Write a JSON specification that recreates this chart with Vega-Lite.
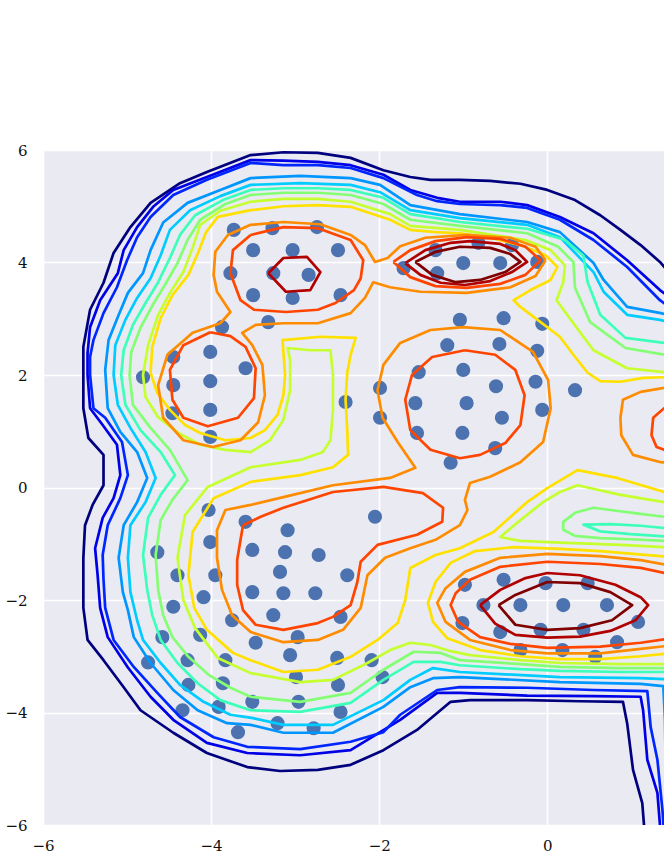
{
"$schema":"https://vega.github.io/schema/vega-lite/v6.json",
"autosize":{"type":"none"},
"padding":{"left":43,"top":150,"right":0,"bottom":35},
"width":621,"height":675,
"background":"white",
"config":{"view":{"stroke":null,"fill":"#EAEAF2"},
"axis":{"domain":false,"ticks":false,"grid":true,"gridColor":"white","gridWidth":1.6,"labelFont":"DejaVu Serif","labelFontSize":15,"labelColor":"#111","labelFlush":false,"title":null}},
"datasets":{
"c":[
{"l":1,"s":"1","x":1.58,"y":3.6},{"l":1,"s":"1","x":1.34,"y":4.01},{"l":1,"s":"1","x":1.11,"y":4.31},{"l":1,"s":"1","x":0.87,"y":4.58},{"l":1,"s":"1","x":0.63,"y":4.84},{"l":1,"s":"1","x":0.33,"y":5.11},{"l":1,"s":"1","x":0,"y":5.29},{"l":1,"s":"1","x":-0.32,"y":5.4},{"l":1,"s":"1","x":-0.68,"y":5.45},{"l":1,"s":"1","x":-1.04,"y":5.47},{"l":1,"s":"1","x":-1.39,"y":5.47},{"l":1,"s":"1","x":-1.63,"y":5.52},{"l":1,"s":"1","x":-1.95,"y":5.64},{"l":1,"s":"1","x":-2.34,"y":5.86},{"l":1,"s":"1","x":-2.73,"y":5.95},{"l":1,"s":"1","x":-3.14,"y":5.96},{"l":1,"s":"1","x":-3.53,"y":5.91},{"l":1,"s":"1","x":-4.05,"y":5.61},{"l":1,"s":"1","x":-4.37,"y":5.41},{"l":1,"s":"1","x":-4.72,"y":5.06},{"l":1,"s":"1","x":-4.96,"y":4.63},{"l":1,"s":"1","x":-5.16,"y":4.17},{"l":1,"s":"1","x":-5.28,"y":3.64},{"l":1,"s":"1","x":-5.44,"y":3.16},{"l":1,"s":"1","x":-5.52,"y":2.5},{"l":1,"s":"1","x":-5.52,"y":2.0},{"l":1,"s":"1","x":-5.52,"y":1.41},{"l":1,"s":"1","x":-5.46,"y":0.88},{"l":1,"s":"1","x":-5.28,"y":0.58},{"l":1,"s":"1","x":-5.28,"y":0.04},{"l":1,"s":"1","x":-5.41,"y":-0.31},{"l":1,"s":"1","x":-5.5,"y":-0.67},{"l":1,"s":"1","x":-5.52,"y":-1.25},{"l":1,"s":"1","x":-5.52,"y":-2.14},{"l":1,"s":"1","x":-5.47,"y":-2.71},{"l":1,"s":"1","x":-5.28,"y":-3.07},{"l":1,"s":"1","x":-5.04,"y":-3.55},{"l":1,"s":"1","x":-4.84,"y":-3.96},{"l":1,"s":"1","x":-4.45,"y":-4.36},{"l":1,"s":"1","x":-4.05,"y":-4.72},{"l":1,"s":"1","x":-3.57,"y":-4.97},{"l":1,"s":"1","x":-3.18,"y":-5.04},{"l":1,"s":"1","x":-2.73,"y":-5.02},{"l":1,"s":"1","x":-2.34,"y":-4.93},{"l":1,"s":"1","x":-1.95,"y":-4.67},{"l":1,"s":"1","x":-1.55,"y":-4.31},{"l":1,"s":"1","x":-1.31,"y":-4.01},{"l":1,"s":"1","x":-1.15,"y":-3.81},{"l":1,"s":"1","x":-0.92,"y":-3.78},{"l":1,"s":"1","x":-0.24,"y":-3.78},{"l":1,"s":"1","x":0.39,"y":-3.8},{"l":1,"s":"1","x":0.9,"y":-3.81},{"l":1,"s":"1","x":0.95,"y":-4.19},{"l":1,"s":"1","x":1.02,"y":-5.02},{"l":1,"s":"1","x":1.13,"y":-5.61},{"l":1,"s":"1","x":1.16,"y":-6.18},

{"l":2,"s":"2","x":1.58,"y":3.24},{"l":2,"s":"2","x":1.34,"y":3.51},{"l":2,"s":"2","x":0.95,"y":4.04},{"l":2,"s":"2","x":0.55,"y":4.52},{"l":2,"s":"2","x":0.15,"y":4.81},{"l":2,"s":"2","x":-0.24,"y":5.02},{"l":2,"s":"2","x":-0.56,"y":5.08},{"l":2,"s":"2","x":-1.04,"y":5.08},{"l":2,"s":"2","x":-1.31,"y":5.15},{"l":2,"s":"2","x":-1.63,"y":5.29},{"l":2,"s":"2","x":-1.95,"y":5.56},{"l":2,"s":"2","x":-2.34,"y":5.73},{"l":2,"s":"2","x":-2.73,"y":5.79},{"l":2,"s":"2","x":-3.14,"y":5.81},{"l":2,"s":"2","x":-3.53,"y":5.82},{"l":2,"s":"2","x":-4.05,"y":5.52},{"l":2,"s":"2","x":-4.45,"y":5.29},{"l":2,"s":"2","x":-4.69,"y":4.99},{"l":2,"s":"2","x":-4.88,"y":4.63},{"l":2,"s":"2","x":-5.04,"y":4.22},{"l":2,"s":"2","x":-5.11,"y":3.81},{"l":2,"s":"2","x":-5.32,"y":3.33},{"l":2,"s":"2","x":-5.44,"y":2.85},{"l":2,"s":"2","x":-5.47,"y":2.39},{"l":2,"s":"2","x":-5.47,"y":2.0},{"l":2,"s":"2","x":-5.44,"y":1.41},{"l":2,"s":"2","x":-5.29,"y":1.11},{"l":2,"s":"2","x":-5.12,"y":0.76},{"l":2,"s":"2","x":-5.08,"y":0.22},{"l":2,"s":"2","x":-5.16,"y":-0.19},{"l":2,"s":"2","x":-5.29,"y":-0.54},{"l":2,"s":"2","x":-5.38,"y":-1.08},{"l":2,"s":"2","x":-5.35,"y":-1.56},{"l":2,"s":"2","x":-5.32,"y":-2.14},{"l":2,"s":"2","x":-5.23,"y":-2.66},{"l":2,"s":"2","x":-4.99,"y":-3.2},{"l":2,"s":"2","x":-4.72,"y":-3.72},{"l":2,"s":"2","x":-4.45,"y":-4.13},{"l":2,"s":"2","x":-4.05,"y":-4.54},{"l":2,"s":"2","x":-3.57,"y":-4.72},{"l":2,"s":"2","x":-2.94,"y":-4.76},{"l":2,"s":"2","x":-2.34,"y":-4.67},{"l":2,"s":"2","x":-1.75,"y":-4.13},{"l":2,"s":"2","x":-1.31,"y":-3.65},{"l":2,"s":"2","x":-1.04,"y":-3.65},{"l":2,"s":"2","x":-0.24,"y":-3.7},{"l":2,"s":"2","x":0.55,"y":-3.71},{"l":2,"s":"2","x":1.11,"y":-3.72},{"l":2,"s":"2","x":1.14,"y":-3.96},{"l":2,"s":"2","x":1.19,"y":-4.84},{"l":2,"s":"2","x":1.31,"y":-5.43},{"l":2,"s":"2","x":1.35,"y":-6.18},

{"l":3,"s":"3","x":1.58,"y":3.07},{"l":3,"s":"3","x":1.34,"y":3.33},{"l":3,"s":"3","x":0.95,"y":3.92},{"l":3,"s":"3","x":0.55,"y":4.4},{"l":3,"s":"3","x":0.15,"y":4.76},{"l":3,"s":"3","x":-0.24,"y":4.97},{"l":3,"s":"3","x":-0.56,"y":5.02},{"l":3,"s":"3","x":-1.04,"y":5.04},{"l":3,"s":"3","x":-1.31,"y":5.09},{"l":3,"s":"3","x":-1.55,"y":5.2},{"l":3,"s":"3","x":-1.95,"y":5.5},{"l":3,"s":"3","x":-2.34,"y":5.68},{"l":3,"s":"3","x":-2.73,"y":5.73},{"l":3,"s":"3","x":-3.14,"y":5.73},{"l":3,"s":"3","x":-3.53,"y":5.77},{"l":3,"s":"3","x":-4.05,"y":5.47},{"l":3,"s":"3","x":-4.45,"y":5.2},{"l":3,"s":"3","x":-4.72,"y":4.81},{"l":3,"s":"3","x":-4.88,"y":4.45},{"l":3,"s":"3","x":-5.0,"y":4.04},{"l":3,"s":"3","x":-5.12,"y":3.56},{"l":3,"s":"3","x":-5.28,"y":3.1},{"l":3,"s":"3","x":-5.4,"y":2.62},{"l":3,"s":"3","x":-5.44,"y":2.32},{"l":3,"s":"3","x":-5.44,"y":2.0},{"l":3,"s":"3","x":-5.4,"y":1.41},{"l":3,"s":"3","x":-5.26,"y":1.24},{"l":3,"s":"3","x":-5.06,"y":0.81},{"l":3,"s":"3","x":-4.99,"y":0.22},{"l":3,"s":"3","x":-5.08,"y":-0.19},{"l":3,"s":"3","x":-5.23,"y":-0.67},{"l":3,"s":"3","x":-5.29,"y":-1.2},{"l":3,"s":"3","x":-5.28,"y":-1.64},{"l":3,"s":"3","x":-5.26,"y":-2.14},{"l":3,"s":"3","x":-5.16,"y":-2.71},{"l":3,"s":"3","x":-4.92,"y":-3.19},{"l":3,"s":"3","x":-4.64,"y":-3.65},{"l":3,"s":"3","x":-4.37,"y":-4.08},{"l":3,"s":"3","x":-3.97,"y":-4.44},{"l":3,"s":"3","x":-3.57,"y":-4.61},{"l":3,"s":"3","x":-2.94,"y":-4.65},{"l":3,"s":"3","x":-2.34,"y":-4.52},{"l":3,"s":"3","x":-1.95,"y":-4.35},{"l":3,"s":"3","x":-1.75,"y":-4.04},{"l":3,"s":"3","x":-1.31,"y":-3.6},{"l":3,"s":"3","x":-1.04,"y":-3.55},{"l":3,"s":"3","x":-0.24,"y":-3.56},{"l":3,"s":"3","x":0.55,"y":-3.6},{"l":3,"s":"3","x":1.19,"y":-3.62},{"l":3,"s":"3","x":1.23,"y":-4.26},{"l":3,"s":"3","x":1.31,"y":-4.84},{"l":3,"s":"3","x":1.37,"y":-5.73},{"l":3,"s":"3","x":1.39,"y":-6.18},

{"l":4,"s":"4","x":1.58,"y":3.01},{"l":4,"s":"4","x":1.35,"y":3.1},{"l":4,"s":"4","x":0.95,"y":3.21},{"l":4,"s":"4","x":0.67,"y":3.69},{"l":4,"s":"4","x":0.55,"y":3.99},{"l":4,"s":"4","x":0.15,"y":4.54},{"l":4,"s":"4","x":-0.24,"y":4.72},{"l":4,"s":"4","x":-1.04,"y":4.86},{"l":4,"s":"4","x":-1.63,"y":5.02},{"l":4,"s":"4","x":-1.99,"y":5.38},{"l":4,"s":"4","x":-2.34,"y":5.5},{"l":4,"s":"4","x":-2.94,"y":5.54},{"l":4,"s":"4","x":-3.53,"y":5.5},{"l":4,"s":"4","x":-3.89,"y":5.29},{"l":4,"s":"4","x":-4.28,"y":5.06},{"l":4,"s":"4","x":-4.57,"y":4.71},{"l":4,"s":"4","x":-4.72,"y":4.22},{"l":4,"s":"4","x":-4.81,"y":3.81},{"l":4,"s":"4","x":-4.99,"y":3.46},{"l":4,"s":"4","x":-5.11,"y":3.03},{"l":4,"s":"4","x":-5.22,"y":2.62},{"l":4,"s":"4","x":-5.26,"y":2.09},{"l":4,"s":"4","x":-5.23,"y":1.41},{"l":4,"s":"4","x":-5.08,"y":0.99},{"l":4,"s":"4","x":-4.88,"y":0.63},{"l":4,"s":"4","x":-4.76,"y":0.17},{"l":4,"s":"4","x":-4.88,"y":-0.26},{"l":4,"s":"4","x":-5.04,"y":-0.67},{"l":4,"s":"4","x":-5.1,"y":-1.25},{"l":4,"s":"4","x":-5.05,"y":-1.86},{"l":4,"s":"4","x":-4.99,"y":-2.18},{"l":4,"s":"4","x":-4.92,"y":-2.66},{"l":4,"s":"4","x":-4.72,"y":-3.12},{"l":4,"s":"4","x":-4.45,"y":-3.6},{"l":4,"s":"4","x":-4.16,"y":-3.96},{"l":4,"s":"4","x":-3.81,"y":-4.19},{"l":4,"s":"4","x":-3.53,"y":-4.22},{"l":4,"s":"4","x":-3.14,"y":-4.36},{"l":4,"s":"4","x":-2.55,"y":-4.36},{"l":4,"s":"4","x":-1.95,"y":-3.9},{"l":4,"s":"4","x":-1.63,"y":-3.55},{"l":4,"s":"4","x":-1.36,"y":-3.39},{"l":4,"s":"4","x":-1.04,"y":-3.37},{"l":4,"s":"4","x":0.15,"y":-3.46},{"l":4,"s":"4","x":1.11,"y":-3.49},{"l":4,"s":"4","x":1.38,"y":-3.53},{"l":4,"s":"4","x":1.4,"y":-4.13},{"l":4,"s":"4","x":1.42,"y":-6.18},

{"l":5,"s":"5","x":1.58,"y":2.89},{"l":5,"s":"5","x":1.34,"y":2.98},{"l":5,"s":"5","x":0.95,"y":3.07},{"l":5,"s":"5","x":0.67,"y":3.48},{"l":5,"s":"5","x":0.55,"y":3.83},{"l":5,"s":"5","x":0.15,"y":4.45},{"l":5,"s":"5","x":-0.24,"y":4.67},{"l":5,"s":"5","x":-1.04,"y":4.79},{"l":5,"s":"5","x":-1.63,"y":4.93},{"l":5,"s":"5","x":-1.99,"y":5.25},{"l":5,"s":"5","x":-2.34,"y":5.38},{"l":5,"s":"5","x":-2.94,"y":5.41},{"l":5,"s":"5","x":-3.53,"y":5.38},{"l":5,"s":"5","x":-3.89,"y":5.18},{"l":5,"s":"5","x":-4.25,"y":4.93},{"l":5,"s":"5","x":-4.49,"y":4.58},{"l":5,"s":"5","x":-4.6,"y":4.13},{"l":5,"s":"5","x":-4.72,"y":3.72},{"l":5,"s":"5","x":-4.88,"y":3.37},{"l":5,"s":"5","x":-5.02,"y":2.98},{"l":5,"s":"5","x":-5.14,"y":2.53},{"l":5,"s":"5","x":-5.16,"y":2.0},{"l":5,"s":"5","x":-5.11,"y":1.47},{"l":5,"s":"5","x":-4.96,"y":1.06},{"l":5,"s":"5","x":-4.78,"y":0.63},{"l":5,"s":"5","x":-4.66,"y":0.17},{"l":5,"s":"5","x":-4.78,"y":-0.26},{"l":5,"s":"5","x":-4.96,"y":-0.67},{"l":5,"s":"5","x":-4.99,"y":-1.25},{"l":5,"s":"5","x":-4.96,"y":-1.86},{"l":5,"s":"5","x":-4.88,"y":-2.36},{"l":5,"s":"5","x":-4.81,"y":-2.71},{"l":5,"s":"5","x":-4.6,"y":-3.12},{"l":5,"s":"5","x":-4.37,"y":-3.51},{"l":5,"s":"5","x":-4.09,"y":-3.81},{"l":5,"s":"5","x":-3.77,"y":-4.04},{"l":5,"s":"5","x":-3.5,"y":-4.1},{"l":5,"s":"5","x":-3.14,"y":-4.22},{"l":5,"s":"5","x":-2.55,"y":-4.22},{"l":5,"s":"5","x":-1.95,"y":-3.78},{"l":5,"s":"5","x":-1.63,"y":-3.42},{"l":5,"s":"5","x":-1.36,"y":-3.21},{"l":5,"s":"5","x":-1.04,"y":-3.28},{"l":5,"s":"5","x":0.15,"y":-3.37},{"l":5,"s":"5","x":1.11,"y":-3.39},{"l":5,"s":"5","x":1.58,"y":-3.42},

{"l":6,"s":"6a","x":1.52,"y":2.55},{"l":6,"s":"6a","x":1.39,"y":2.57},{"l":6,"s":"6a","x":0.93,"y":2.66},{"l":6,"s":"6a","x":0.63,"y":3.07},{"l":6,"s":"6a","x":0.48,"y":3.65},{"l":6,"s":"6a","x":0.43,"y":4.12},{"l":6,"s":"6a","x":0.21,"y":4.4},{"l":6,"s":"6a","x":-0.24,"y":4.6},{"l":6,"s":"6a","x":-1.04,"y":4.72},{"l":6,"s":"6a","x":-1.63,"y":4.86},{"l":6,"s":"6a","x":-1.95,"y":5.15},{"l":6,"s":"6a","x":-2.34,"y":5.29},{"l":6,"s":"6a","x":-2.73,"y":5.32},{"l":6,"s":"6a","x":-3.14,"y":5.32},{"l":6,"s":"6a","x":-3.53,"y":5.29},{"l":6,"s":"6a","x":-3.86,"y":5.11},{"l":6,"s":"6a","x":-4.19,"y":4.84},{"l":6,"s":"6a","x":-4.37,"y":4.49},{"l":6,"s":"6a","x":-4.49,"y":4.08},{"l":6,"s":"6a","x":-4.63,"y":3.65},{"l":6,"s":"6a","x":-4.78,"y":3.28},{"l":6,"s":"6a","x":-4.93,"y":2.89},{"l":6,"s":"6a","x":-5.04,"y":2.44},{"l":6,"s":"6a","x":-5.07,"y":2.0},{"l":6,"s":"6a","x":-5.02,"y":1.47},{"l":6,"s":"6a","x":-4.84,"y":1.02},{"l":6,"s":"6a","x":-4.6,"y":0.63},{"l":6,"s":"6a","x":-4.43,"y":0.22},{"l":6,"s":"6a","x":-4.6,"y":-0.13},{"l":6,"s":"6a","x":-4.75,"y":-0.54},{"l":6,"s":"6a","x":-4.81,"y":-1.2},{"l":6,"s":"6a","x":-4.76,"y":-1.82},{"l":6,"s":"6a","x":-4.7,"y":-2.27},{"l":6,"s":"6a","x":-4.6,"y":-2.71},{"l":6,"s":"6a","x":-4.4,"y":-3.12},{"l":6,"s":"6a","x":-4.16,"y":-3.48},{"l":6,"s":"6a","x":-3.89,"y":-3.78},{"l":6,"s":"6a","x":-3.53,"y":-3.96},{"l":6,"s":"6a","x":-2.94,"y":-3.99},{"l":6,"s":"6a","x":-2.34,"y":-3.83},{"l":6,"s":"6a","x":-1.95,"y":-3.42},{"l":6,"s":"6a","x":-1.59,"y":-3.1},{"l":6,"s":"6a","x":-1.27,"y":-3.1},{"l":6,"s":"6a","x":-1.04,"y":-3.16},{"l":6,"s":"6a","x":-0.32,"y":-3.23},{"l":6,"s":"6a","x":0.15,"y":-3.26},{"l":6,"s":"6a","x":0.87,"y":-3.28},{"l":6,"s":"6a","x":1.52,"y":-3.28},
{"l":6,"s":"6b","x":1.52,"y":-0.72},{"l":6,"s":"6b","x":1.39,"y":-0.72},{"l":6,"s":"6b","x":1.11,"y":-0.68},{"l":6,"s":"6b","x":0.75,"y":-0.65},{"l":6,"s":"6b","x":0.43,"y":-0.66},{"l":6,"s":"6b","x":0.63,"y":-0.78},{"l":6,"s":"6b","x":0.99,"y":-0.83},{"l":6,"s":"6b","x":1.39,"y":-0.87},{"l":6,"s":"6b","x":1.52,"y":-0.87},

{"l":7,"s":"7a","x":1.52,"y":2.34},{"l":7,"s":"7a","x":1.39,"y":2.36},{"l":7,"s":"7a","x":0.93,"y":2.48},{"l":7,"s":"7a","x":0.51,"y":2.94},{"l":7,"s":"7a","x":0.33,"y":3.55},{"l":7,"s":"7a","x":0.31,"y":4.01},{"l":7,"s":"7a","x":0.13,"y":4.28},{"l":7,"s":"7a","x":-0.24,"y":4.52},{"l":7,"s":"7a","x":-1.04,"y":4.65},{"l":7,"s":"7a","x":-1.63,"y":4.76},{"l":7,"s":"7a","x":-1.95,"y":5.04},{"l":7,"s":"7a","x":-2.34,"y":5.2},{"l":7,"s":"7a","x":-2.73,"y":5.24},{"l":7,"s":"7a","x":-3.14,"y":5.24},{"l":7,"s":"7a","x":-3.53,"y":5.2},{"l":7,"s":"7a","x":-3.83,"y":5.04},{"l":7,"s":"7a","x":-4.13,"y":4.76},{"l":7,"s":"7a","x":-4.28,"y":4.4},{"l":7,"s":"7a","x":-4.4,"y":3.99},{"l":7,"s":"7a","x":-4.55,"y":3.6},{"l":7,"s":"7a","x":-4.7,"y":3.23},{"l":7,"s":"7a","x":-4.84,"y":2.84},{"l":7,"s":"7a","x":-4.95,"y":2.41},{"l":7,"s":"7a","x":-4.97,"y":2.0},{"l":7,"s":"7a","x":-4.93,"y":1.47},{"l":7,"s":"7a","x":-4.72,"y":1.06},{"l":7,"s":"7a","x":-4.49,"y":0.67},{"l":7,"s":"7a","x":-4.28,"y":0.13},{"l":7,"s":"7a","x":-4.46,"y":-0.22},{"l":7,"s":"7a","x":-4.6,"y":-0.58},{"l":7,"s":"7a","x":-4.66,"y":-1.2},{"l":7,"s":"7a","x":-4.63,"y":-1.82},{"l":7,"s":"7a","x":-4.57,"y":-2.27},{"l":7,"s":"7a","x":-4.46,"y":-2.66},{"l":7,"s":"7a","x":-4.27,"y":-3.01},{"l":7,"s":"7a","x":-4.03,"y":-3.33},{"l":7,"s":"7a","x":-3.77,"y":-3.56},{"l":7,"s":"7a","x":-3.53,"y":-3.72},{"l":7,"s":"7a","x":-2.94,"y":-3.81},{"l":7,"s":"7a","x":-2.34,"y":-3.65},{"l":7,"s":"7a","x":-1.95,"y":-3.24},{"l":7,"s":"7a","x":-1.59,"y":-2.92},{"l":7,"s":"7a","x":-1.27,"y":-2.94},{"l":7,"s":"7a","x":-1.04,"y":-3.07},{"l":7,"s":"7a","x":-0.32,"y":-3.14},{"l":7,"s":"7a","x":0.15,"y":-3.19},{"l":7,"s":"7a","x":0.87,"y":-3.21},{"l":7,"s":"7a","x":1.52,"y":-3.21},
{"l":7,"s":"7b","x":1.52,"y":-0.52},{"l":7,"s":"7b","x":1.39,"y":-0.52},{"l":7,"s":"7b","x":1.11,"y":-0.47},{"l":7,"s":"7b","x":0.75,"y":-0.4},{"l":7,"s":"7b","x":0.55,"y":-0.36},{"l":7,"s":"7b","x":0.33,"y":-0.45},{"l":7,"s":"7b","x":0.19,"y":-0.61},{"l":7,"s":"7b","x":0.19,"y":-0.75},{"l":7,"s":"7b","x":0.33,"y":-0.86},{"l":7,"s":"7b","x":0.63,"y":-0.9},{"l":7,"s":"7b","x":0.99,"y":-0.92},{"l":7,"s":"7b","x":1.39,"y":-0.95},{"l":7,"s":"7b","x":1.52,"y":-0.95},

{"l":8,"s":"8a","x":1.52,"y":2.05},{"l":8,"s":"8a","x":1.39,"y":2.05},{"l":8,"s":"8a","x":0.95,"y":2.12},{"l":8,"s":"8a","x":0.55,"y":2.44},{"l":8,"s":"8a","x":0.3,"y":2.94},{"l":8,"s":"8a","x":0.11,"y":3.33},{"l":8,"s":"8a","x":0.19,"y":3.65},{"l":8,"s":"8a","x":0.21,"y":3.95},{"l":8,"s":"8a","x":0.04,"y":4.22},{"l":8,"s":"8a","x":-0.26,"y":4.4},{"l":8,"s":"8a","x":-0.56,"y":4.47},{"l":8,"s":"8a","x":-1.04,"y":4.58},{"l":8,"s":"8a","x":-1.63,"y":4.65},{"l":8,"s":"8a","x":-1.87,"y":4.86},{"l":8,"s":"8a","x":-2.34,"y":5.08},{"l":8,"s":"8a","x":-2.73,"y":5.13},{"l":8,"s":"8a","x":-3.14,"y":5.13},{"l":8,"s":"8a","x":-3.53,"y":5.08},{"l":8,"s":"8a","x":-3.89,"y":4.92},{"l":8,"s":"8a","x":-4.13,"y":4.67},{"l":8,"s":"8a","x":-4.22,"y":4.26},{"l":8,"s":"8a","x":-4.33,"y":3.83},{"l":8,"s":"8a","x":-4.49,"y":3.46},{"l":8,"s":"8a","x":-4.63,"y":3.07},{"l":8,"s":"8a","x":-4.75,"y":2.53},{"l":8,"s":"8a","x":-4.81,"y":2.0},{"l":8,"s":"8a","x":-4.78,"y":1.61},{"l":8,"s":"8a","x":-4.63,"y":1.25},{"l":8,"s":"8a","x":-4.39,"y":0.97},{"l":8,"s":"8a","x":-4.13,"y":0.76},{"l":8,"s":"8a","x":-3.83,"y":0.67},{"l":8,"s":"8a","x":-3.53,"y":0.63},{"l":8,"s":"8a","x":-3.3,"y":0.84},{"l":8,"s":"8a","x":-3.14,"y":1.2},{"l":8,"s":"8a","x":-3.06,"y":1.73},{"l":8,"s":"8a","x":-3.06,"y":2.27},{"l":8,"s":"8a","x":-3.09,"y":2.48},{"l":8,"s":"8a","x":-2.82,"y":2.44},{"l":8,"s":"8a","x":-2.58,"y":2.44},{"l":8,"s":"8a","x":-2.55,"y":2.0},{"l":8,"s":"8a","x":-2.55,"y":1.38},{"l":8,"s":"8a","x":-2.58,"y":0.84},{"l":8,"s":"8a","x":-2.67,"y":0.63},{"l":8,"s":"8a","x":-2.94,"y":0.49},{"l":8,"s":"8a","x":-3.53,"y":0.36},{"l":8,"s":"8a","x":-4.04,"y":0.01},{"l":8,"s":"8a","x":-4.31,"y":-0.49},{"l":8,"s":"8a","x":-4.4,"y":-1.25},{"l":8,"s":"8a","x":-4.33,"y":-2.0},{"l":8,"s":"8a","x":-4.19,"y":-2.5},{"l":8,"s":"8a","x":-3.92,"y":-3.03},{"l":8,"s":"8a","x":-3.53,"y":-3.3},{"l":8,"s":"8a","x":-2.94,"y":-3.46},{"l":8,"s":"8a","x":-2.55,"y":-3.42},{"l":8,"s":"8a","x":-2.14,"y":-3.12},{"l":8,"s":"8a","x":-1.87,"y":-2.89},{"l":8,"s":"8a","x":-1.63,"y":-2.76},{"l":8,"s":"8a","x":-1.39,"y":-2.8},{"l":8,"s":"8a","x":-1.15,"y":-2.91},{"l":8,"s":"8a","x":-0.92,"y":-2.98},{"l":8,"s":"8a","x":-0.32,"y":-3.07},{"l":8,"s":"8a","x":0.15,"y":-3.12},{"l":8,"s":"8a","x":0.87,"y":-3.14},{"l":8,"s":"8a","x":1.52,"y":-3.14},
{"l":8,"s":"8b","x":1.52,"y":-0.26},{"l":8,"s":"8b","x":1.39,"y":-0.26},{"l":8,"s":"8b","x":0.87,"y":-0.13},{"l":8,"s":"8b","x":0.36,"y":0.04},{"l":8,"s":"8b","x":0.15,"y":-0.08},{"l":8,"s":"8b","x":-0.05,"y":-0.26},{"l":8,"s":"8b","x":-0.32,"y":-0.58},{"l":8,"s":"8b","x":-0.56,"y":-0.88},{"l":8,"s":"8b","x":-0.32,"y":-0.95},{"l":8,"s":"8b","x":0.15,"y":-0.98},{"l":8,"s":"8b","x":0.87,"y":-1.02},{"l":8,"s":"8b","x":1.39,"y":-1.06},{"l":8,"s":"8b","x":1.52,"y":-1.07},

{"l":9,"s":"9a","x":1.52,"y":1.96},{"l":9,"s":"9a","x":1.39,"y":1.96},{"l":9,"s":"9a","x":1.14,"y":1.95},{"l":9,"s":"9a","x":0.87,"y":1.88},{"l":9,"s":"9a","x":0.63,"y":1.89},{"l":9,"s":"9a","x":0.48,"y":2.04},{"l":9,"s":"9a","x":0.31,"y":2.36},{"l":9,"s":"9a","x":0.15,"y":2.68},{"l":9,"s":"9a","x":-0.08,"y":2.94},{"l":9,"s":"9a","x":-0.32,"y":3.21},{"l":9,"s":"9a","x":-0.4,"y":3.33},{"l":9,"s":"9a","x":-0.2,"y":3.51},{"l":9,"s":"9a","x":0.04,"y":3.69},{"l":9,"s":"9a","x":0.12,"y":3.92},{"l":9,"s":"9a","x":-0.02,"y":4.13},{"l":9,"s":"9a","x":-0.32,"y":4.31},{"l":9,"s":"9a","x":-0.68,"y":4.44},{"l":9,"s":"9a","x":-1.04,"y":4.52},{"l":9,"s":"9a","x":-1.33,"y":4.54},{"l":9,"s":"9a","x":-1.63,"y":4.58},{"l":9,"s":"9a","x":-1.87,"y":4.76},{"l":9,"s":"9a","x":-2.34,"y":4.99},{"l":9,"s":"9a","x":-2.73,"y":5.02},{"l":9,"s":"9a","x":-3.14,"y":5.0},{"l":9,"s":"9a","x":-3.53,"y":4.93},{"l":9,"s":"9a","x":-3.92,"y":4.81},{"l":9,"s":"9a","x":-4.06,"y":4.54},{"l":9,"s":"9a","x":-4.15,"y":4.19},{"l":9,"s":"9a","x":-4.27,"y":3.78},{"l":9,"s":"9a","x":-4.46,"y":3.42},{"l":9,"s":"9a","x":-4.6,"y":3.01},{"l":9,"s":"9a","x":-4.7,"y":2.5},{"l":9,"s":"9a","x":-4.72,"y":2.04},{"l":9,"s":"9a","x":-4.64,"y":1.68},{"l":9,"s":"9a","x":-4.49,"y":1.38},{"l":9,"s":"9a","x":-4.31,"y":1.11},{"l":9,"s":"9a","x":-4.13,"y":0.97},{"l":9,"s":"9a","x":-3.83,"y":0.84},{"l":9,"s":"9a","x":-3.53,"y":0.88},{"l":9,"s":"9a","x":-3.36,"y":1.02},{"l":9,"s":"9a","x":-3.21,"y":1.29},{"l":9,"s":"9a","x":-3.14,"y":1.64},{"l":9,"s":"9a","x":-3.12,"y":2.0},{"l":9,"s":"9a","x":-3.15,"y":2.62},{"l":9,"s":"9a","x":-2.7,"y":2.68},{"l":9,"s":"9a","x":-2.28,"y":2.66},{"l":9,"s":"9a","x":-2.34,"y":2.36},{"l":9,"s":"9a","x":-2.38,"y":2.04},{"l":9,"s":"9a","x":-2.4,"y":1.56},{"l":9,"s":"9a","x":-2.38,"y":1.02},{"l":9,"s":"9a","x":-2.37,"y":0.58},{"l":9,"s":"9a","x":-2.55,"y":0.36},{"l":9,"s":"9a","x":-2.94,"y":0.22},{"l":9,"s":"9a","x":-3.53,"y":0.1},{"l":9,"s":"9a","x":-3.97,"y":-0.19},{"l":9,"s":"9a","x":-4.22,"y":-0.79},{"l":9,"s":"9a","x":-4.27,"y":-1.56},{"l":9,"s":"9a","x":-4.2,"y":-2.14},{"l":9,"s":"9a","x":-4.05,"y":-2.53},{"l":9,"s":"9a","x":-3.74,"y":-2.94},{"l":9,"s":"9a","x":-3.53,"y":-3.07},{"l":9,"s":"9a","x":-3.14,"y":-3.28},{"l":9,"s":"9a","x":-2.73,"y":-3.24},{"l":9,"s":"9a","x":-2.34,"y":-3.01},{"l":9,"s":"9a","x":-2.02,"y":-2.71},{"l":9,"s":"9a","x":-1.78,"y":-2.41},{"l":9,"s":"9a","x":-1.69,"y":-2.0},{"l":9,"s":"9a","x":-1.63,"y":-1.43},{"l":9,"s":"9a","x":-1.33,"y":-1.2},{"l":9,"s":"9a","x":-1.04,"y":-1.08},{"l":9,"s":"9a","x":-0.64,"y":-0.79},{"l":9,"s":"9a","x":-0.24,"y":-0.26},{"l":9,"s":"9a","x":0,"y":-0.01},{"l":9,"s":"9a","x":0.36,"y":0.31},{"l":9,"s":"9a","x":0.83,"y":0.17},{"l":9,"s":"9a","x":1.39,"y":-0.08},{"l":9,"s":"9a","x":1.52,"y":-0.13},
{"l":9,"s":"9b","x":1.52,"y":-1.24},{"l":9,"s":"9b","x":1.34,"y":-1.22},{"l":9,"s":"9b","x":0.63,"y":-1.13},{"l":9,"s":"9b","x":0.15,"y":-1.09},{"l":9,"s":"9b","x":-0.4,"y":-1.06},{"l":9,"s":"9b","x":-0.86,"y":-1.13},{"l":9,"s":"9b","x":-1.15,"y":-1.34},{"l":9,"s":"9b","x":-1.33,"y":-1.68},{"l":9,"s":"9b","x":-1.42,"y":-2.05},{"l":9,"s":"9b","x":-1.36,"y":-2.39},{"l":9,"s":"9b","x":-1.19,"y":-2.68},{"l":9,"s":"9b","x":-0.8,"y":-2.89},{"l":9,"s":"9b","x":-0.32,"y":-3.0},{"l":9,"s":"9b","x":0.15,"y":-3.05},{"l":9,"s":"9b","x":0.63,"y":-3.05},{"l":9,"s":"9b","x":1.11,"y":-3.0},{"l":9,"s":"9b","x":1.52,"y":-2.94},

{"l":10,"s":"10a","x":-0.02,"y":4.04},{"l":10,"s":"10a","x":-0.14,"y":4.28},{"l":10,"s":"10a","x":-0.44,"y":4.44},{"l":10,"s":"10a","x":-0.96,"y":4.49},{"l":10,"s":"10a","x":-1.45,"y":4.44},{"l":10,"s":"10a","x":-1.75,"y":4.29},{"l":10,"s":"10a","x":-1.9,"y":4.08},{"l":10,"s":"10a","x":-2.05,"y":4.01},{"l":10,"s":"10a","x":-2.17,"y":4.31},{"l":10,"s":"10a","x":-2.34,"y":4.49},{"l":10,"s":"10a","x":-2.7,"y":4.68},{"l":10,"s":"10a","x":-3.14,"y":4.72},{"l":10,"s":"10a","x":-3.53,"y":4.67},{"l":10,"s":"10a","x":-3.8,"y":4.49},{"l":10,"s":"10a","x":-3.95,"y":4.19},{"l":10,"s":"10a","x":-3.97,"y":3.78},{"l":10,"s":"10a","x":-3.93,"y":3.48},{"l":10,"s":"10a","x":-3.77,"y":3.12},{"l":10,"s":"10a","x":-3.89,"y":2.92},{"l":10,"s":"10a","x":-4.22,"y":2.75},{"l":10,"s":"10a","x":-4.52,"y":2.36},{"l":10,"s":"10a","x":-4.63,"y":1.82},{"l":10,"s":"10a","x":-4.57,"y":1.24},{"l":10,"s":"10a","x":-4.33,"y":0.84},{"l":10,"s":"10a","x":-3.98,"y":0.72},{"l":10,"s":"10a","x":-3.65,"y":0.84},{"l":10,"s":"10a","x":-3.44,"y":1.16},{"l":10,"s":"10a","x":-3.36,"y":1.64},{"l":10,"s":"10a","x":-3.39,"y":2.18},{"l":10,"s":"10a","x":-3.51,"y":2.53},{"l":10,"s":"10a","x":-3.63,"y":2.75},{"l":10,"s":"10a","x":-3.47,"y":2.89},{"l":10,"s":"10a","x":-3.14,"y":2.92},{"l":10,"s":"10a","x":-2.73,"y":2.92},{"l":10,"s":"10a","x":-2.34,"y":3.1},{"l":10,"s":"10a","x":-2.17,"y":3.37},{"l":10,"s":"10a","x":-2.07,"y":3.65},{"l":10,"s":"10a","x":-1.87,"y":3.56},{"l":10,"s":"10a","x":-1.51,"y":3.48},{"l":10,"s":"10a","x":-0.96,"y":3.46},{"l":10,"s":"10a","x":-0.44,"y":3.56},{"l":10,"s":"10a","x":-0.14,"y":3.76},{"l":10,"s":"10a","x":-0.02,"y":4.04},
{"l":10,"s":"10b","x":-1.0,"y":2.85},{"l":10,"s":"10b","x":-0.56,"y":2.8},{"l":10,"s":"10b","x":-0.17,"y":2.41},{"l":10,"s":"10b","x":0.01,"y":1.91},{"l":10,"s":"10b","x":0.04,"y":1.41},{"l":10,"s":"10b","x":-0.05,"y":0.81},{"l":10,"s":"10b","x":-0.32,"y":0.45},{"l":10,"s":"10b","x":-0.68,"y":0.19},{"l":10,"s":"10b","x":-0.92,"y":0.08},{"l":10,"s":"10b","x":-0.98,"y":-0.22},{"l":10,"s":"10b","x":-0.95,"y":-0.4},{"l":10,"s":"10b","x":-1.04,"y":-0.67},{"l":10,"s":"10b","x":-1.33,"y":-0.93},{"l":10,"s":"10b","x":-1.63,"y":-1.08},{"l":10,"s":"10b","x":-1.93,"y":-1.25},{"l":10,"s":"10b","x":-2.14,"y":-1.56},{"l":10,"s":"10b","x":-2.22,"y":-2.14},{"l":10,"s":"10b","x":-2.43,"y":-2.53},{"l":10,"s":"10b","x":-2.73,"y":-2.71},{"l":10,"s":"10b","x":-3.14,"y":-2.75},{"l":10,"s":"10b","x":-3.53,"y":-2.57},{"l":10,"s":"10b","x":-3.75,"y":-2.27},{"l":10,"s":"10b","x":-3.87,"y":-1.82},{"l":10,"s":"10b","x":-3.93,"y":-1.25},{"l":10,"s":"10b","x":-3.93,"y":-0.76},{"l":10,"s":"10b","x":-3.83,"y":-0.4},{"l":10,"s":"10b","x":-3.53,"y":-0.31},{"l":10,"s":"10b","x":-3.14,"y":-0.17},{"l":10,"s":"10b","x":-2.55,"y":0.04},{"l":10,"s":"10b","x":-1.87,"y":0.17},{"l":10,"s":"10b","x":-1.57,"y":0.35},{"l":10,"s":"10b","x":-1.78,"y":0.81},{"l":10,"s":"10b","x":-1.96,"y":1.24},{"l":10,"s":"10b","x":-2.02,"y":1.73},{"l":10,"s":"10b","x":-1.95,"y":2.18},{"l":10,"s":"10b","x":-1.75,"y":2.57},{"l":10,"s":"10b","x":-1.39,"y":2.8},{"l":10,"s":"10b","x":-1.0,"y":2.85},
{"l":10,"s":"10c","x":1.52,"y":-1.4},{"l":10,"s":"10c","x":1.11,"y":-1.29},{"l":10,"s":"10c","x":0.63,"y":-1.22},{"l":10,"s":"10c","x":0,"y":-1.18},{"l":10,"s":"10c","x":-0.56,"y":-1.25},{"l":10,"s":"10c","x":-0.98,"y":-1.5},{"l":10,"s":"10c","x":-1.21,"y":-1.79},{"l":10,"s":"10c","x":-1.31,"y":-2.05},{"l":10,"s":"10c","x":-1.21,"y":-2.39},{"l":10,"s":"10c","x":-0.92,"y":-2.71},{"l":10,"s":"10c","x":-0.44,"y":-2.89},{"l":10,"s":"10c","x":0,"y":-2.95},{"l":10,"s":"10c","x":0.63,"y":-2.95},{"l":10,"s":"10c","x":1.11,"y":-2.87},{"l":10,"s":"10c","x":1.52,"y":-2.8},
{"l":10,"s":"10d","x":1.52,"y":1.81},{"l":10,"s":"10d","x":1.39,"y":1.77},{"l":10,"s":"10d","x":1.11,"y":1.7},{"l":10,"s":"10d","x":0.9,"y":1.56},{"l":10,"s":"10d","x":0.87,"y":1.24},{"l":10,"s":"10d","x":0.88,"y":0.93},{"l":10,"s":"10d","x":1.02,"y":0.58},{"l":10,"s":"10d","x":1.35,"y":0.45},{"l":10,"s":"10d","x":1.52,"y":0.44},

{"l":11,"s":"11a","x":-3.53,"y":4.49},{"l":11,"s":"11a","x":-3.14,"y":4.63},{"l":11,"s":"11a","x":-2.73,"y":4.61},{"l":11,"s":"11a","x":-2.34,"y":4.4},{"l":11,"s":"11a","x":-2.19,"y":4.04},{"l":11,"s":"11a","x":-2.22,"y":3.72},{"l":11,"s":"11a","x":-2.3,"y":3.51},{"l":11,"s":"11a","x":-2.52,"y":3.28},{"l":11,"s":"11a","x":-2.73,"y":3.16},{"l":11,"s":"11a","x":-3.11,"y":3.12},{"l":11,"s":"11a","x":-3.49,"y":3.16},{"l":11,"s":"11a","x":-3.65,"y":3.33},{"l":11,"s":"11a","x":-3.77,"y":3.81},{"l":11,"s":"11a","x":-3.74,"y":4.22},{"l":11,"s":"11a","x":-3.53,"y":4.49},
{"l":11,"s":"11b","x":-4.01,"y":2.76},{"l":11,"s":"11b","x":-4.33,"y":2.53},{"l":11,"s":"11b","x":-4.49,"y":2.09},{"l":11,"s":"11b","x":-4.46,"y":1.56},{"l":11,"s":"11b","x":-4.33,"y":1.24},{"l":11,"s":"11b","x":-4.04,"y":1.09},{"l":11,"s":"11b","x":-3.68,"y":1.24},{"l":11,"s":"11b","x":-3.49,"y":1.59},{"l":11,"s":"11b","x":-3.47,"y":2.12},{"l":11,"s":"11b","x":-3.59,"y":2.5},{"l":11,"s":"11b","x":-3.77,"y":2.69},{"l":11,"s":"11b","x":-4.01,"y":2.76},
{"l":11,"s":"11c","x":-1.83,"y":4.01},{"l":11,"s":"11c","x":-1.63,"y":4.22},{"l":11,"s":"11c","x":-1.33,"y":4.38},{"l":11,"s":"11c","x":-0.96,"y":4.45},{"l":11,"s":"11c","x":-0.56,"y":4.42},{"l":11,"s":"11c","x":-0.26,"y":4.28},{"l":11,"s":"11c","x":-0.08,"y":4.04},{"l":11,"s":"11c","x":-0.26,"y":3.78},{"l":11,"s":"11c","x":-0.56,"y":3.62},{"l":11,"s":"11c","x":-0.96,"y":3.55},{"l":11,"s":"11c","x":-1.33,"y":3.58},{"l":11,"s":"11c","x":-1.63,"y":3.74},{"l":11,"s":"11c","x":-1.83,"y":4.01},
{"l":11,"s":"11d","x":-0.98,"y":2.44},{"l":11,"s":"11d","x":-0.62,"y":2.36},{"l":11,"s":"11d","x":-0.38,"y":2.09},{"l":11,"s":"11d","x":-0.27,"y":1.64},{"l":11,"s":"11d","x":-0.32,"y":1.11},{"l":11,"s":"11d","x":-0.5,"y":0.79},{"l":11,"s":"11d","x":-0.8,"y":0.58},{"l":11,"s":"11d","x":-1.04,"y":0.52},{"l":11,"s":"11d","x":-1.39,"y":0.67},{"l":11,"s":"11d","x":-1.63,"y":1.02},{"l":11,"s":"11d","x":-1.69,"y":1.56},{"l":11,"s":"11d","x":-1.61,"y":2.0},{"l":11,"s":"11d","x":-1.37,"y":2.32},{"l":11,"s":"11d","x":-0.98,"y":2.44},
{"l":11,"s":"11e","x":-3.62,"y":-0.67},{"l":11,"s":"11e","x":-3.41,"y":-0.52},{"l":11,"s":"11e","x":-3.14,"y":-0.36},{"l":11,"s":"11e","x":-2.55,"y":-0.08},{"l":11,"s":"11e","x":-1.95,"y":0.01},{"l":11,"s":"11e","x":-1.48,"y":-0.1},{"l":11,"s":"11e","x":-1.24,"y":-0.36},{"l":11,"s":"11e","x":-1.25,"y":-0.61},{"l":11,"s":"11e","x":-1.55,"y":-0.84},{"l":11,"s":"11e","x":-2.02,"y":-1.02},{"l":11,"s":"11e","x":-2.22,"y":-1.32},{"l":11,"s":"11e","x":-2.26,"y":-1.68},{"l":11,"s":"11e","x":-2.34,"y":-2.09},{"l":11,"s":"11e","x":-2.55,"y":-2.3},{"l":11,"s":"11e","x":-2.73,"y":-2.41},{"l":11,"s":"11e","x":-3.14,"y":-2.53},{"l":11,"s":"11e","x":-3.47,"y":-2.44},{"l":11,"s":"11e","x":-3.62,"y":-2.18},{"l":11,"s":"11e","x":-3.69,"y":-1.73},{"l":11,"s":"11e","x":-3.69,"y":-1.29},{"l":11,"s":"11e","x":-3.65,"y":-0.93},{"l":11,"s":"11e","x":-3.62,"y":-0.67},
{"l":11,"s":"11f","x":1.52,"y":-1.56},{"l":11,"s":"11f","x":1.11,"y":-1.43},{"l":11,"s":"11f","x":0.63,"y":-1.36},{"l":11,"s":"11f","x":0,"y":-1.32},{"l":11,"s":"11f","x":-0.56,"y":-1.41},{"l":11,"s":"11f","x":-0.92,"y":-1.64},{"l":11,"s":"11f","x":-1.09,"y":-1.88},{"l":11,"s":"11f","x":-1.15,"y":-2.09},{"l":11,"s":"11f","x":-1.06,"y":-2.39},{"l":11,"s":"11f","x":-0.8,"y":-2.66},{"l":11,"s":"11f","x":-0.44,"y":-2.78},{"l":11,"s":"11f","x":0,"y":-2.85},{"l":11,"s":"11f","x":0.63,"y":-2.83},{"l":11,"s":"11f","x":1.11,"y":-2.76},{"l":11,"s":"11f","x":1.52,"y":-2.67},
{"l":11,"s":"11g","x":1.52,"y":1.41},{"l":11,"s":"11g","x":1.39,"y":1.41},{"l":11,"s":"11g","x":1.26,"y":1.24},{"l":11,"s":"11g","x":1.24,"y":0.93},{"l":11,"s":"11g","x":1.3,"y":0.72},{"l":11,"s":"11g","x":1.39,"y":0.67},{"l":11,"s":"11g","x":1.52,"y":0.65},

{"l":12,"s":"12a","x":-3.32,"y":3.81},{"l":12,"s":"12a","x":-3.14,"y":4.08},{"l":12,"s":"12a","x":-2.86,"y":4.1},{"l":12,"s":"12a","x":-2.7,"y":3.83},{"l":12,"s":"12a","x":-2.82,"y":3.51},{"l":12,"s":"12a","x":-3.11,"y":3.48},{"l":12,"s":"12a","x":-3.32,"y":3.81},
{"l":12,"s":"12b","x":-1.69,"y":3.99},{"l":12,"s":"12b","x":-1.45,"y":4.22},{"l":12,"s":"12b","x":-1.15,"y":4.35},{"l":12,"s":"12b","x":-0.92,"y":4.38},{"l":12,"s":"12b","x":-0.56,"y":4.33},{"l":12,"s":"12b","x":-0.38,"y":4.22},{"l":12,"s":"12b","x":-0.24,"y":4.01},{"l":12,"s":"12b","x":-0.42,"y":3.83},{"l":12,"s":"12b","x":-0.68,"y":3.67},{"l":12,"s":"12b","x":-0.98,"y":3.6},{"l":12,"s":"12b","x":-1.27,"y":3.64},{"l":12,"s":"12b","x":-1.51,"y":3.78},{"l":12,"s":"12b","x":-1.69,"y":3.99},
{"l":12,"s":"12c","x":-0.8,"y":-2.09},{"l":12,"s":"12c","x":-0.56,"y":-1.82},{"l":12,"s":"12c","x":-0.26,"y":-1.61},{"l":12,"s":"12c","x":0,"y":-1.52},{"l":12,"s":"12c","x":0.39,"y":-1.56},{"l":12,"s":"12c","x":0.81,"y":-1.73},{"l":12,"s":"12c","x":1.11,"y":-1.95},{"l":12,"s":"12c","x":1.2,"y":-2.09},{"l":12,"s":"12c","x":1.05,"y":-2.36},{"l":12,"s":"12c","x":0.75,"y":-2.55},{"l":12,"s":"12c","x":0.39,"y":-2.65},{"l":12,"s":"12c","x":0,"y":-2.67},{"l":12,"s":"12c","x":-0.38,"y":-2.62},{"l":12,"s":"12c","x":-0.62,"y":-2.42},{"l":12,"s":"12c","x":-0.8,"y":-2.09},

{"l":13,"s":"13a","x":-1.57,"y":4.01},{"l":13,"s":"13a","x":-1.33,"y":4.19},{"l":13,"s":"13a","x":-1.04,"y":4.28},{"l":13,"s":"13a","x":-0.68,"y":4.26},{"l":13,"s":"13a","x":-0.44,"y":4.15},{"l":13,"s":"13a","x":-0.32,"y":4.01},{"l":13,"s":"13a","x":-0.5,"y":3.83},{"l":13,"s":"13a","x":-0.8,"y":3.69},{"l":13,"s":"13a","x":-1.09,"y":3.65},{"l":13,"s":"13a","x":-1.37,"y":3.78},{"l":13,"s":"13a","x":-1.57,"y":4.01},
{"l":13,"s":"13b","x":-0.58,"y":-2.09},{"l":13,"s":"13b","x":-0.38,"y":-1.91},{"l":13,"s":"13b","x":0,"y":-1.68},{"l":13,"s":"13b","x":0.39,"y":-1.7},{"l":13,"s":"13b","x":0.75,"y":-1.86},{"l":13,"s":"13b","x":1.01,"y":-2.09},{"l":13,"s":"13b","x":0.77,"y":-2.36},{"l":13,"s":"13b","x":0.39,"y":-2.5},{"l":13,"s":"13b","x":0,"y":-2.53},{"l":13,"s":"13b","x":-0.38,"y":-2.44},{"l":13,"s":"13b","x":-0.58,"y":-2.09}
],
"p":[
{"x":-3.73,"y":4.58},{"x":-3.27,"y":4.61},{"x":-2.74,"y":4.63},{"x":-3.5,"y":4.22},{"x":-3.03,"y":4.22},{"x":-2.49,"y":4.22},{"x":-3.77,"y":3.81},{"x":-3.26,"y":3.81},{"x":-2.84,"y":3.78},{"x":-3.5,"y":3.42},{"x":-3.03,"y":3.37},{"x":-2.46,"y":3.42},{"x":-3.32,"y":2.94},
{"x":-3.87,"y":2.85},{"x":-4.01,"y":2.41},{"x":-4.45,"y":2.32},{"x":-3.59,"y":2.12},{"x":-4.81,"y":1.96},{"x":-4.01,"y":1.89},{"x":-4.45,"y":1.82},{"x":-4.01,"y":1.38},{"x":-4.46,"y":1.32},{"x":-4.01,"y":0.9},
{"x":-1.71,"y":3.9},{"x":-1.33,"y":4.22},{"x":-1.31,"y":3.81},{"x":-1.0,"y":3.99},{"x":-0.82,"y":4.35},{"x":-0.56,"y":3.99},{"x":-0.42,"y":4.31},{"x":-0.12,"y":4.01},
{"x":-1.04,"y":2.98},{"x":-0.52,"y":3.01},{"x":-0.06,"y":2.91},{"x":-1.19,"y":2.53},{"x":-0.57,"y":2.55},{"x":-0.12,"y":2.43},{"x":-1.53,"y":2.05},{"x":-1.0,"y":2.09},{"x":-0.61,"y":1.8},{"x":-0.14,"y":1.88},{"x":0.33,"y":1.73},{"x":-1.57,"y":1.5},{"x":-0.96,"y":1.5},{"x":-0.06,"y":1.38},{"x":-0.54,"y":1.24},{"x":-1.55,"y":0.97},{"x":-1.01,"y":0.97},{"x":-0.62,"y":0.7},{"x":-1.15,"y":0.44},{"x":-1.99,"y":1.77},{"x":-2.4,"y":1.52},{"x":-1.99,"y":1.24},
{"x":-4.03,"y":-0.4},{"x":-3.59,"y":-0.61},{"x":-4.64,"y":-1.15},{"x":-4.01,"y":-0.97},{"x":-3.09,"y":-0.76},{"x":-2.72,"y":-1.2},{"x":-3.12,"y":-1.15},{"x":-3.51,"y":-1.11},{"x":-4.4,"y":-1.56},{"x":-3.95,"y":-1.56},{"x":-3.18,"y":-1.5},{"x":-2.38,"y":-1.56},{"x":-2.05,"y":-0.52},{"x":-4.09,"y":-1.95},{"x":-3.51,"y":-1.86},{"x":-3.14,"y":-1.88},{"x":-2.76,"y":-1.88},{"x":-4.45,"y":-2.12},{"x":-3.75,"y":-2.36},{"x":-3.26,"y":-2.27},{"x":-2.46,"y":-2.3},{"x":-2.97,"y":-2.66},{"x":-3.47,"y":-2.76},{"x":-4.58,"y":-2.66},{"x":-4.13,"y":-2.62},{"x":-3.06,"y":-2.98},{"x":-2.5,"y":-3.03},{"x":-2.09,"y":-3.07},{"x":-4.75,"y":-3.11},{"x":-4.28,"y":-3.07},{"x":-3.83,"y":-3.07},{"x":-2.99,"y":-3.37},{"x":-2.49,"y":-3.51},{"x":-1.96,"y":-3.37},{"x":-4.27,"y":-3.51},{"x":-3.86,"y":-3.48},{"x":-3.51,"y":-3.81},{"x":-2.96,"y":-3.81},{"x":-4.34,"y":-3.96},{"x":-3.91,"y":-3.9},{"x":-2.46,"y":-3.99},{"x":-3.21,"y":-4.19},{"x":-2.78,"y":-4.28},{"x":-3.68,"y":-4.35},
{"x":-0.98,"y":-1.73},{"x":-0.52,"y":-1.64},{"x":-0.02,"y":-1.7},{"x":0.48,"y":-1.7},{"x":-0.76,"y":-2.09},{"x":-0.32,"y":-2.09},{"x":0.19,"y":-2.09},{"x":0.71,"y":-2.09},{"x":-1.01,"y":-2.41},{"x":-0.56,"y":-2.57},{"x":-0.08,"y":-2.53},{"x":0.43,"y":-2.53},{"x":0.83,"y":-2.75},{"x":1.08,"y":-2.39},{"x":-0.32,"y":-2.89},{"x":0.18,"y":-2.89},{"x":0.57,"y":-3.01}
]},
"encoding":{
"x":{"field":"x","type":"quantitative","scale":{"domain":[-6,1.3885],"nice":false,"zero":false},"axis":{"values":[-6,-4,-2,0],"labelPadding":13}},
"y":{"field":"y","type":"quantitative","scale":{"domain":[-6,6],"nice":false,"zero":false},"axis":{"values":[-6,-4,-2,0,2,4,6],"labelPadding":16}}
},
"layer":[
{"data":{"name":"p"},"mark":{"type":"circle","size":200,"opacity":1,"color":"#4C72B0","clip":true}},
{"data":{"name":"c"},"mark":{"type":"line","strokeWidth":2.7,"strokeJoin":"round","clip":true},
"encoding":{"detail":{"field":"s","type":"nominal"},"order":{"value":null},
"color":{"field":"l","type":"nominal","legend":null,"scale":{"domain":[1,2,3,4,5,6,7,8,9,10,11,12,13],"range":["#00007F","#0000E6","#0026FF","#0096FF","#00CCFF","#3CFFBA","#84FF74","#C6FF30","#FFE100","#FF8C00","#FF4500","#B00000","#7F0000"]}}}}
]
}
